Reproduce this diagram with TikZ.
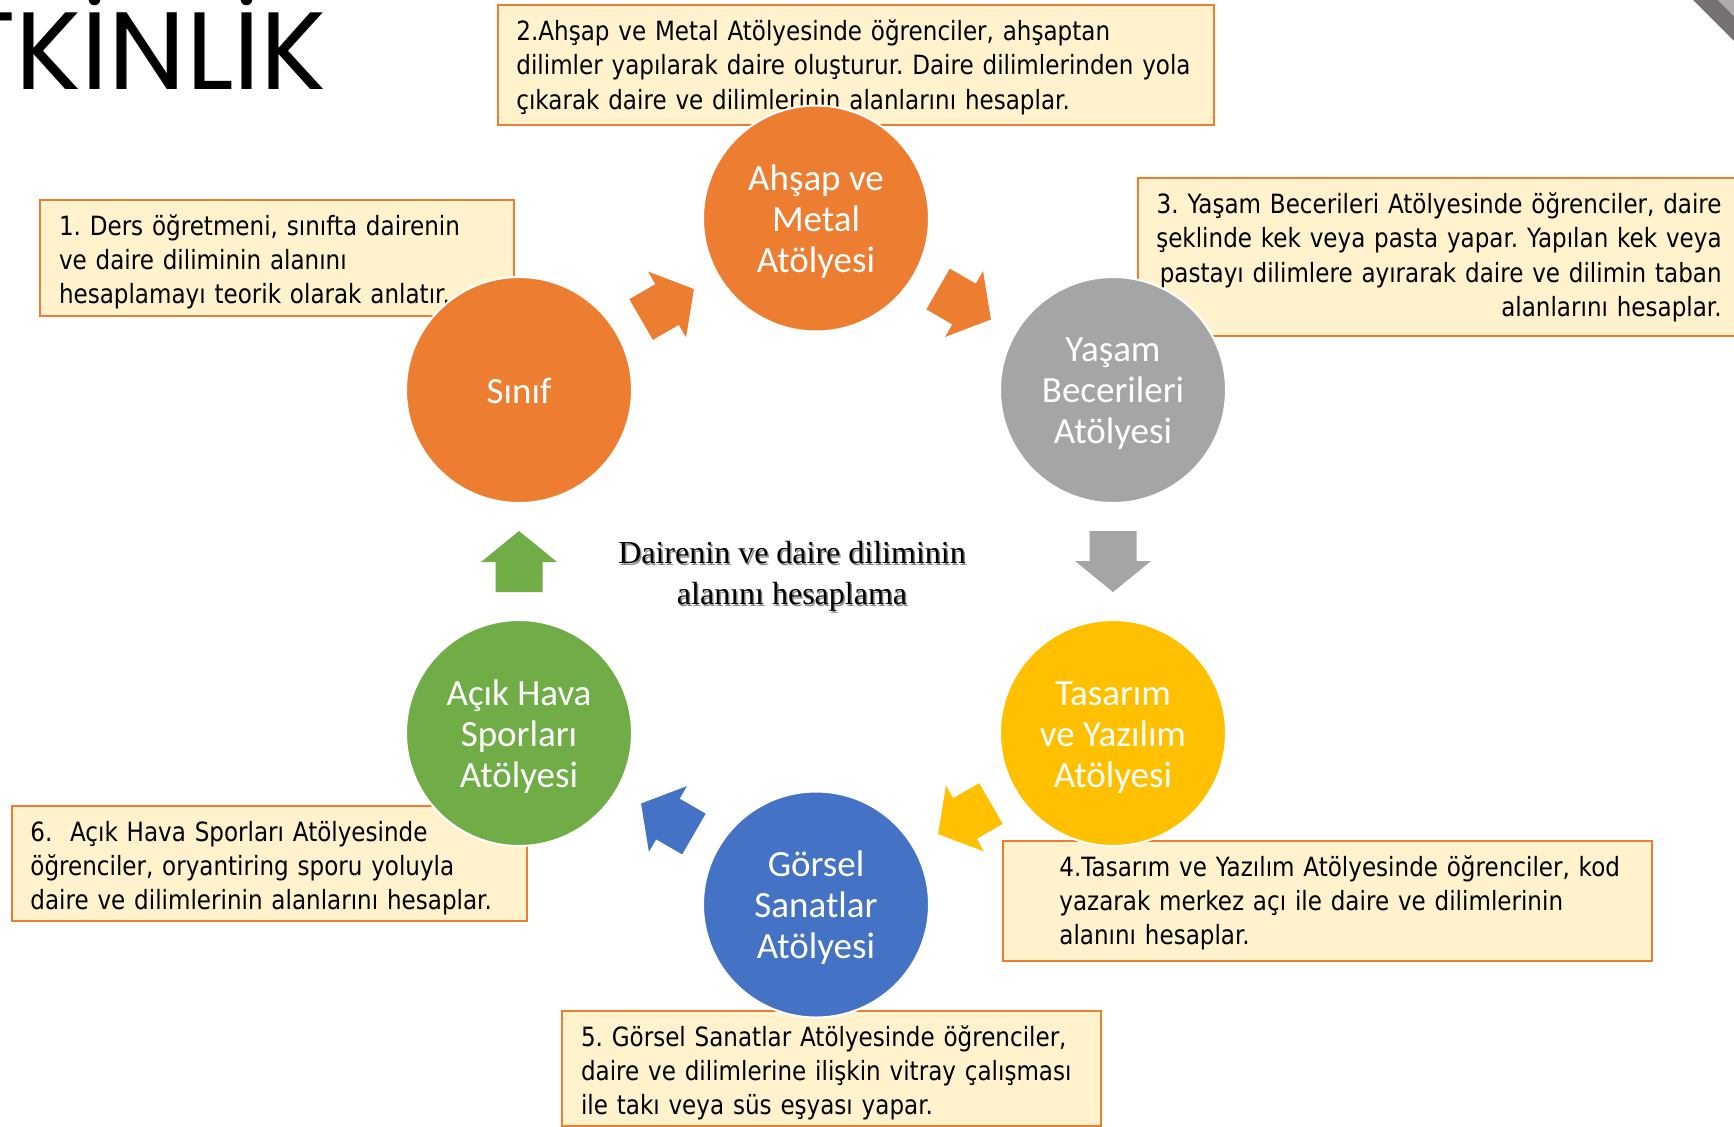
\documentclass[tikz,border=0pt]{standalone}
\usepackage{fontspec}
\setmainfont{Liberation Serif}
\newfontfamily\boxfont[FakeStretch=0.87]{DejaVu Sans}
\newfontfamily\circfont{Carlito}
\newfontfamily\titlefont{Poppins}
\usetikzlibrary{calc}
\frenchspacing
\definecolor{corange}{HTML}{ED7D31}
\definecolor{cgrey}{HTML}{A5A5A5}
\definecolor{cyellow}{HTML}{FFC000}
\definecolor{cblue}{HTML}{4472C4}
\definecolor{cgreen}{HTML}{70AD47}
\definecolor{boxfill}{HTML}{FFF2CC}
\definecolor{cornerdark}{HTML}{767171}
\definecolor{cornerlight}{HTML}{AFABAB}
\tikzset{
  infobox/.style={draw=corange, fill=boxfill, line width=1pt, inner sep=0pt, anchor=north west},
  infotext/.style={font=\boxfont\fontsize{13.25}{17.15}\selectfont, inner sep=0pt, anchor=base west, align=left, text width=360pt},
  station/.style={circle, minimum size=113pt, inner sep=0pt, draw=white, line width=1pt},
  stationtext/.style={inner sep=0pt, text=white, align=center, font=\circfont\fontsize{18.5}{20.5}\selectfont},
  blockarrow/.pic={\fill[pic actions] (-30.5,-23.5) -- (-0.5,-23.5) -- (-0.5,-38) -- (30.5,0) -- (-0.5,38) -- (-0.5,23.5) -- (-30.5,23.5) -- cycle;}
}
\begin{document}
\begin{tikzpicture}[x=0.5pt,y=0.5pt]
\useasboundingbox (0,0) rectangle (1734,-1126);
\clip (0,0) rectangle (1734,-1126);
\fill[white] (0,0) rectangle (1734,-1126);
% corner decoration
\fill[cornerdark] (1693,0) -- (1734,-41) -- (1734,-16) -- (1718,0) -- cycle;
\fill[cornerlight] (1718,0) -- (1734,-16) -- (1734,0) -- cycle;
% title
\node[font=\titlefont\fontsize{55}{60}\selectfont, inner sep=0pt, anchor=base east] (title) at (327,-89) {ETKİNLİK};
% info boxes
\node[infobox, minimum width=237pt, minimum height=58pt] (b1) at (39,-199) {};
\node[infotext] (t1) at (58.6,-235) {1. Ders öğretmeni, sınıfta dairenin\\ve daire diliminin alanını\\hesaplamayı teorik olarak anlatır.};
\node[infobox, minimum width=358pt, minimum height=60pt] (b2) at (497,-4) {};
\node[infotext] (t2) at (516,-40.5) {2.Ahşap ve Metal Atölyesinde öğrenciler, ahşaptan\\dilimler yapılarak daire oluşturur. Daire dilimlerinden yola\\çıkarak daire ve dilimlerinin alanlarını hesaplar.};
\node[infobox, minimum width=304pt, minimum height=79pt] (b3) at (1137,-177) {};
\node[infotext, anchor=base east, align=right, text width=300pt] (t3) at (1722,-213.5) {3. Yaşam Becerileri Atölyesinde öğrenciler, daire\\şeklinde kek veya pasta yapar. Yapılan kek veya\\pastayı dilimlere ayırarak daire ve dilimin taban\\alanlarını hesaplar.};
\node[infobox, minimum width=324.5pt, minimum height=60pt] (b4) at (1002,-840) {};
\node[infotext] (t4) at (1059,-876) {4.Tasarım ve Yazılım Atölyesinde öğrenciler, kod\\yazarak merkez açı ile daire ve dilimlerinin\\alanını hesaplar.};
\node[infobox, minimum width=269.5pt, minimum height=57.5pt] (b5) at (561,-1010) {};
\node[infotext] (t5) at (580.6,-1046) {5. Görsel Sanatlar Atölyesinde öğrenciler,\\daire ve dilimlerine ilişkin vitray çalışması\\ile takı veya süs eşyası yapar.};
\node[infobox, minimum width=257.5pt, minimum height=57.5pt] (b6) at (11,-805) {};
\node[infotext] (t6) at (30,-841) {6.~ Açık Hava Sporları Atölyesinde\\öğrenciler, oryantiring sporu yoluyla\\daire ve dilimlerinin alanlarını hesaplar.};
% stations
\node[station, fill=corange] (sinif) at (519,-390) {};
\node[station, fill=corange] (ahsap) at (816,-218.5) {};
\node[station, fill=cgrey] (yasam) at (1113,-390) {};
\node[station, fill=cyellow] (tasarim) at (1113,-733) {};
\node[station, fill=cblue] (gorsel) at (816,-904.5) {};
\node[station, fill=cgreen] (acik) at (519,-733) {};
\node[stationtext] (sinift) at ($(sinif)+(0,-1)$) {Sınıf};
\node[stationtext] (ahsapt) at ($(ahsap)+(0,-3)$) {Ahşap ve\\Metal\\Atölyesi};
\node[stationtext] (yasamt) at ($(yasam)+(0,-4)$) {Yaşam\\Becerileri\\Atölyesi};
\node[stationtext] (tasarimt) at ($(tasarim)+(0,-4.5)$) {Tasarım\\ve Yazılım\\Atölyesi};
\node[stationtext] (gorselt) at ($(gorsel)+(0,-3.5)$) {Görsel\\Sanatlar\\Atölyesi};
\node[stationtext] (acikt) at ($(acik)+(0,-4)$) {Açık Hava\\Sporları\\Atölyesi};
% block arrows
\path ($(sinif)!0.5!(ahsap)$) pic[rotate=30, fill=corange] {blockarrow};
\path ($(ahsap)!0.5!(yasam)$) pic[rotate=-30, fill=corange] {blockarrow};
\path ($(yasam)!0.5!(tasarim)$) pic[rotate=-90, fill=cgrey] {blockarrow};
\path ($(tasarim)!0.5!(gorsel)$) pic[rotate=210, fill=cyellow] {blockarrow};
\path ($(gorsel)!0.5!(acik)$) pic[rotate=150, fill=cblue] {blockarrow};
\path ($(acik)!0.5!(sinif)$) pic[rotate=90, fill=cgreen] {blockarrow};
% centre text
\node[font=\fontsize{16}{20.5}\selectfont, align=center, text=black!45, inner sep=0pt] (centreshadow) at (793.5,-578) {Dairenin ve daire diliminin\\alanını hesaplama};
\node[font=\fontsize{16}{20.5}\selectfont, align=center, inner sep=0pt] (centre) at (792,-576.5) {Dairenin ve daire diliminin\\alanını hesaplama};
\end{tikzpicture}
\end{document}
